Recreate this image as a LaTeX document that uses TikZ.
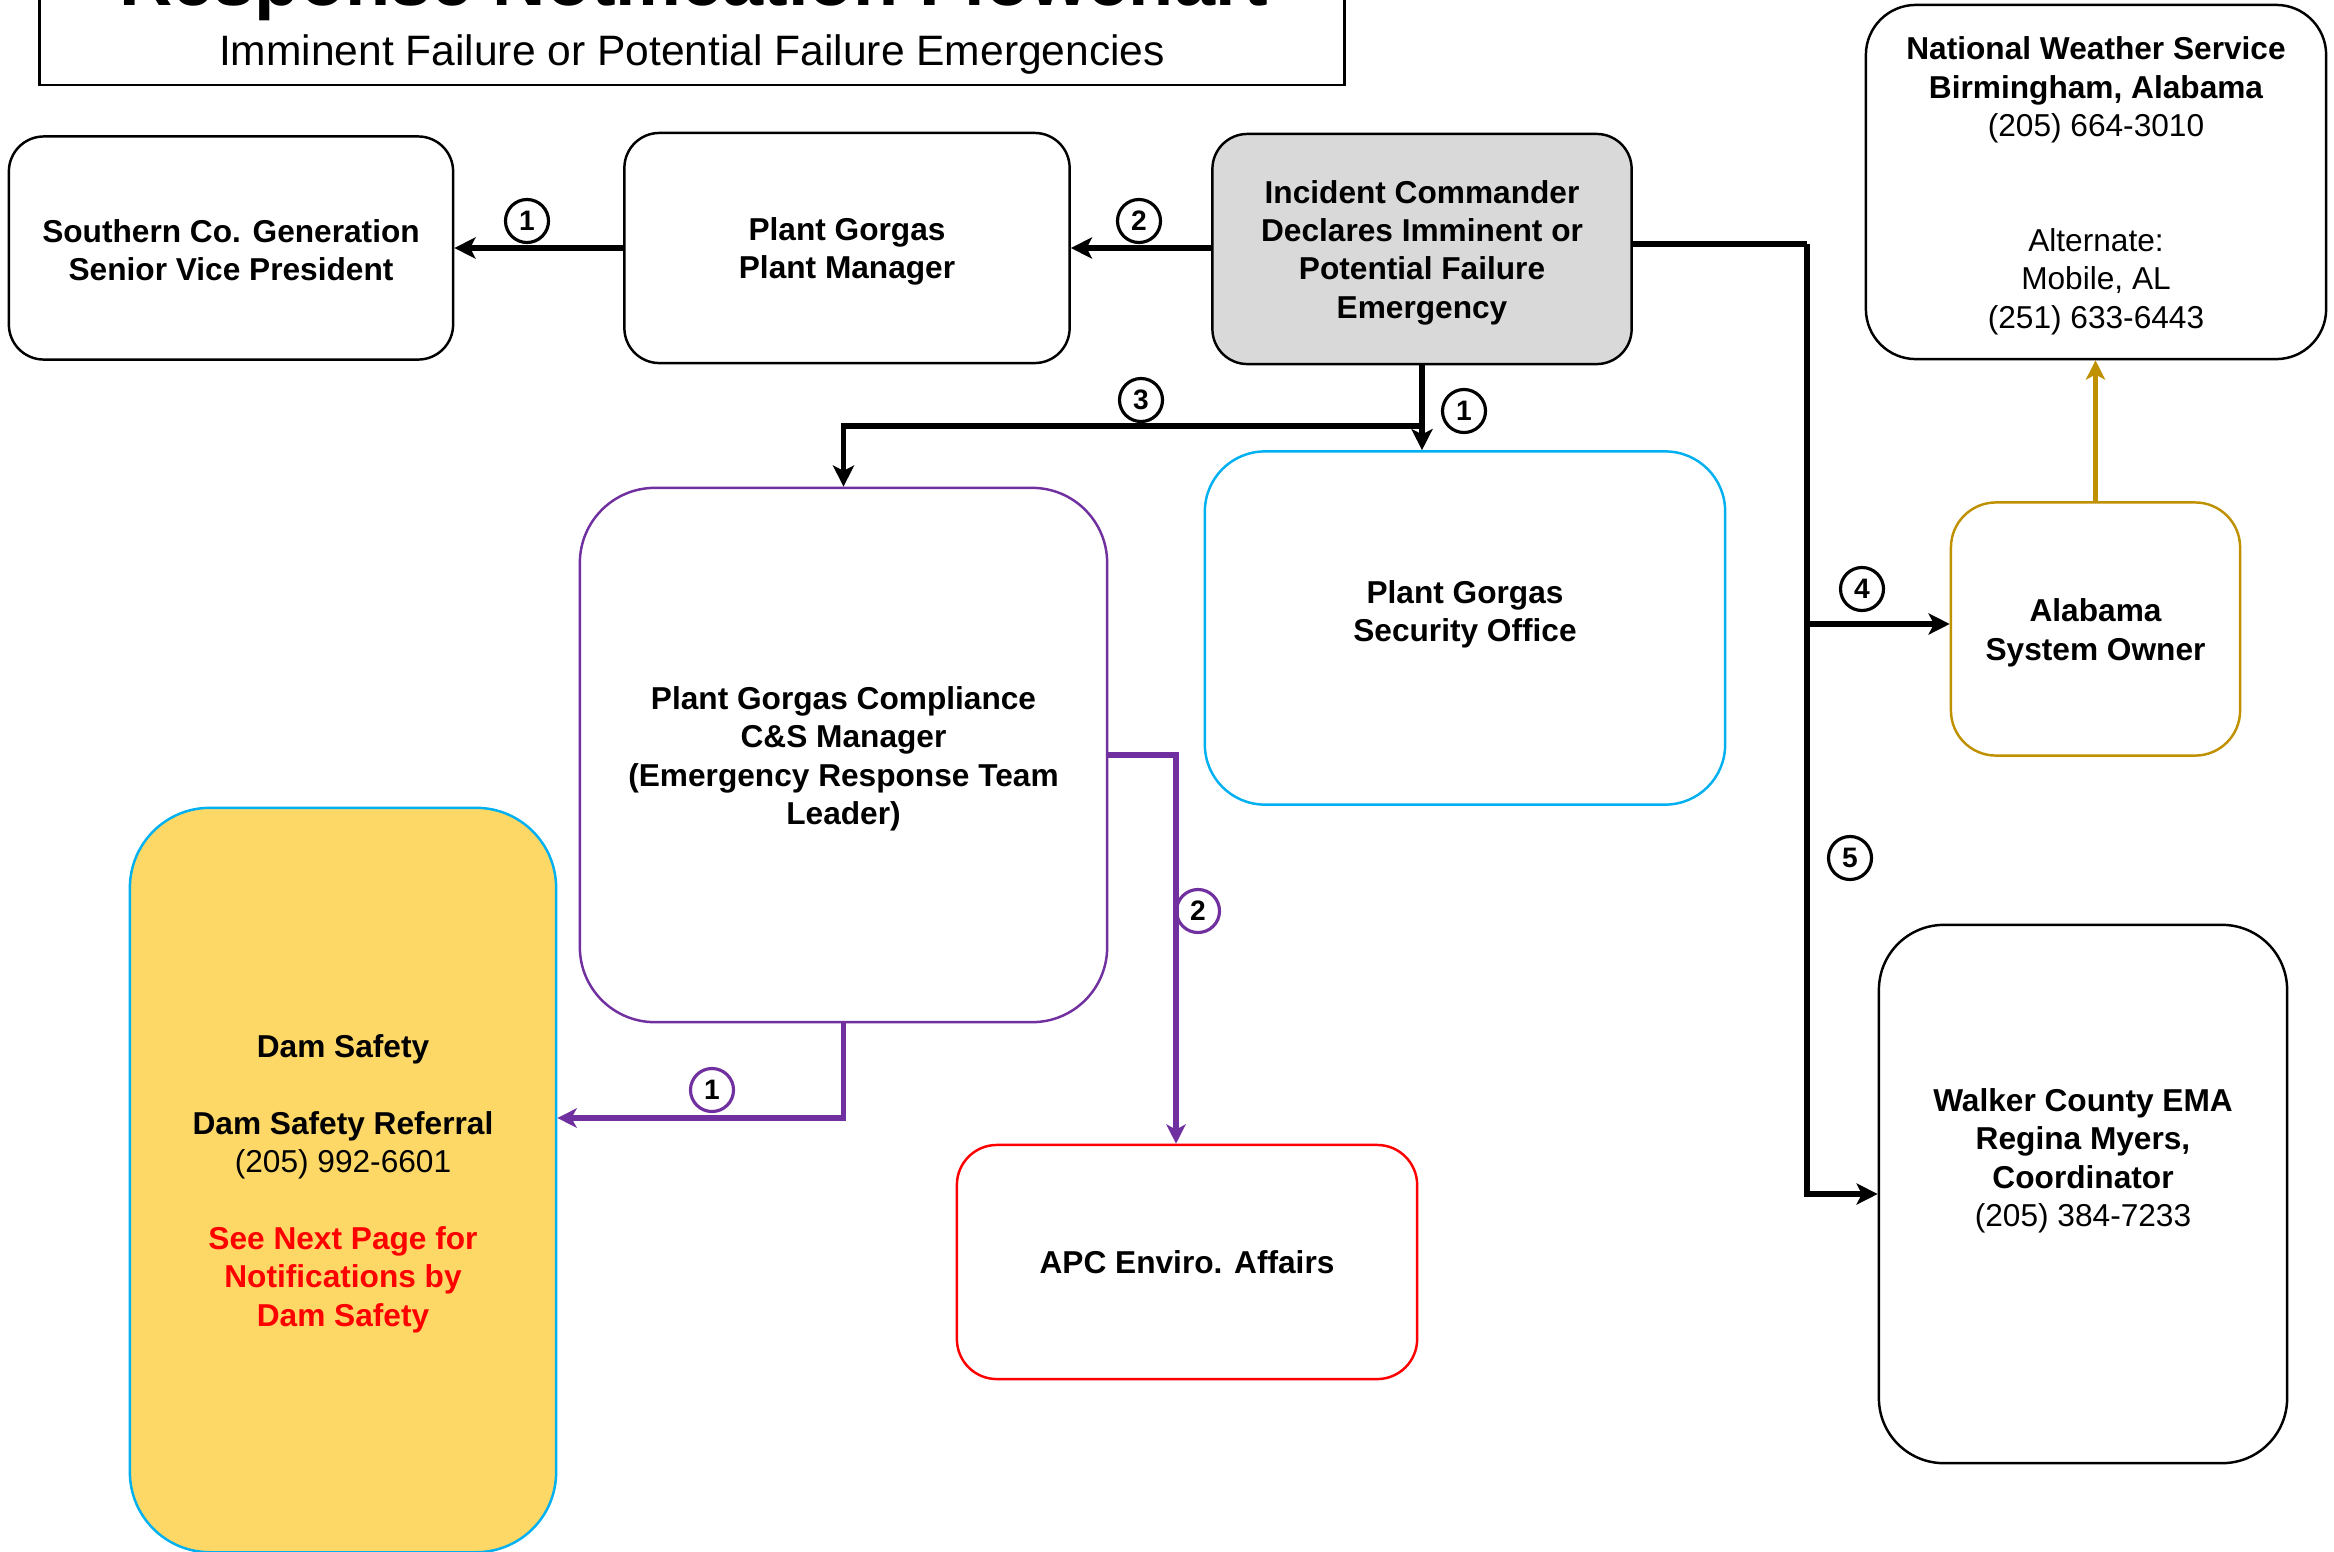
\documentclass[tikz,border=0pt]{standalone}
\usepackage{fontspec}
\setmainfont{Liberation Sans}
\usetikzlibrary{arrows.meta}
\definecolor{goldc}{HTML}{BF9000}
\definecolor{purplec}{HTML}{7030A0}
\definecolor{bluec}{HTML}{00B0F0}
\definecolor{grayfill}{HTML}{D9D9D9}
\definecolor{damfill}{HTML}{FDD866}
\definecolor{redc}{HTML}{FF0000}
\newcommand\topstrutx{\rule{0pt}{8.6pt}}
\newcommand\topstruty{\rule{0pt}{7.6pt}}
\begin{document}
\begin{tikzpicture}[x=0.01cm,y=-0.01cm,
  box/.style={draw=black, line width=0.7pt, align=center, inner sep=0pt,
    font=\bfseries\fontsize{9}{10.9}\selectfont},
  conn/.style={line width=1.6pt, draw=black, -{Stealth[length=6pt,width=6pt,inset=1.5pt]}},
  plain/.style={line width=1.6pt, draw=black},
  pconn/.style={line width=1.5pt, draw=purplec, -{Stealth[length=5.5pt,width=5.5pt,inset=1.5pt]}},
  gconn/.style={line width=1.5pt, draw=goldc, -{Stealth[length=5.5pt,width=5.5pt,inset=1.5pt]}},
  numc/.style={circle, draw=black, line width=0.9pt, minimum size=0.43cm, inner sep=0pt,
    font=\bfseries\fontsize{8}{9}\selectfont},
  pnumc/.style={numc, draw=purplec}
]
\useasboundingbox (0,0) rectangle (2334,1551);
\clip (0,0) rectangle (2334,1551);

% title
\node[draw=black, line width=0.7pt, minimum width=13.04cm, minimum height=1.85cm, inner sep=0pt] (titlebox) at (692,-7.5) {};
\node[anchor=base, font=\bfseries\fontsize{21}{25}\selectfont, inner sep=0pt] (title) at (694,5) {Response Notification Flowchart};
\node[anchor=base, font=\fontsize{12.1}{14}\selectfont, inner sep=0pt] (subtitle) at (692,65) {Imminent Failure or Potential Failure Emergencies};

% boxes
\node[box, rounded corners=0.35cm, minimum width=4.44cm, minimum height=2.23cm] (south) at (231,248)
  {\topstruty Southern Co. Generation\\Senior Vice President};
\node[box, rounded corners=0.35cm, minimum width=4.45cm, minimum height=2.30cm] (pm) at (847,248)
  {\topstrutx Plant Gorgas\\Plant Manager};
\node[box, fill=grayfill, rounded corners=0.35cm, minimum width=4.19cm, minimum height=2.30cm] (inc) at (1422,249)
  {\topstrutx Incident Commander\\Declares Imminent or\\Potential Failure\\Emergency};
\node[box, rounded corners=0.5cm, minimum width=4.60cm, minimum height=3.54cm] (nws) at (2096,182)
  {\topstrutx National Weather Service\\Birmingham, Alabama\\\textmd{(205) 664-3010}\\[21.8pt]\textmd{Alternate:}\\\textmd{Mobile, AL}\\\textmd{(251) 633-6443}};
\node[box, draw=bluec, rounded corners=0.6cm, minimum width=5.20cm, minimum height=3.53cm] (sec) at (1465,628)
  {\topstruty Plant Gorgas\\Security Office\\\mbox{}};
\node[box, draw=goldc, rounded corners=0.45cm, minimum width=2.89cm, minimum height=2.53cm] (ala) at (2095.5,629)
  {\topstrutx Alabama\\System Owner};
\node[box, draw=purplec, rounded corners=0.75cm, minimum width=5.27cm, minimum height=5.34cm] (comp) at (843.5,755)
  {\topstrutx Plant Gorgas Compliance\\C\&S Manager\\(Emergency Response Team\\Leader)};
\node[box, draw=bluec, fill=damfill, rounded corners=0.8cm, minimum width=4.26cm, minimum height=7.44cm] (dam) at (343,1180)
  {\topstrutx Dam Safety\\[10.9pt]Dam Safety Referral\\\textmd{(205) 992-6601}\\[10.9pt]\textcolor{redc}{See Next Page for}\\\textcolor{redc}{Notifications by}\\\textcolor{redc}{Dam Safety}};
\node[box, draw=redc, rounded corners=0.4cm, minimum width=4.60cm, minimum height=2.34cm] (apc) at (1187,1262)
  {APC Enviro. Affairs};
\node[box, rounded corners=0.65cm, minimum width=4.08cm, minimum height=5.38cm] (walker) at (2083,1194)
  {\topstruty Walker County EMA\\Regina Myers,\\Coordinator\\\textmd{(205) 384-7233}\\\mbox{}\\\mbox{}};

% connectors
\draw[conn] (pm.west) -- (south.east);
\draw[conn] (inc.west |- pm.east) -- (pm.east);
\draw[conn] (inc.south) -- (inc.south |- sec.north);
\draw[conn] (inc.south) -- ++(0,61) -| (comp.north);
\coordinate (trunk) at (1807,244);
\draw[plain] (inc.east |- trunk) -- (trunk);
\draw[conn] (trunk) |- (walker.west);
\coordinate (aj) at (1807,624);
\draw[conn] (aj) -- (aj -| ala.west);
\draw[gconn] (ala.north) -- (ala.north |- nws.south);
\coordinate (dj) at (843.5,1118);
\draw[pconn] (comp.south) -- (dj) -- (dj -| dam.east);
\coordinate (pj) at (1176,755);
\draw[pconn] (comp.east) -- (pj) -- (pj |- apc.north);

% labels
\node[numc] (l1) at (527,221) {1};
\node[numc] (l2) at (1139,221) {2};
\node[numc] (l1b) at (1464,411) {1};
\node[numc] (l3) at (1141,400) {3};
\node[numc] (l4) at (1862,589) {4};
\node[numc] (l5) at (1850,858) {5};
\node[pnumc] (p1) at (712,1090) {1};
\node[pnumc] (p2) at (1198,911) {2};
\end{tikzpicture}
\end{document}
